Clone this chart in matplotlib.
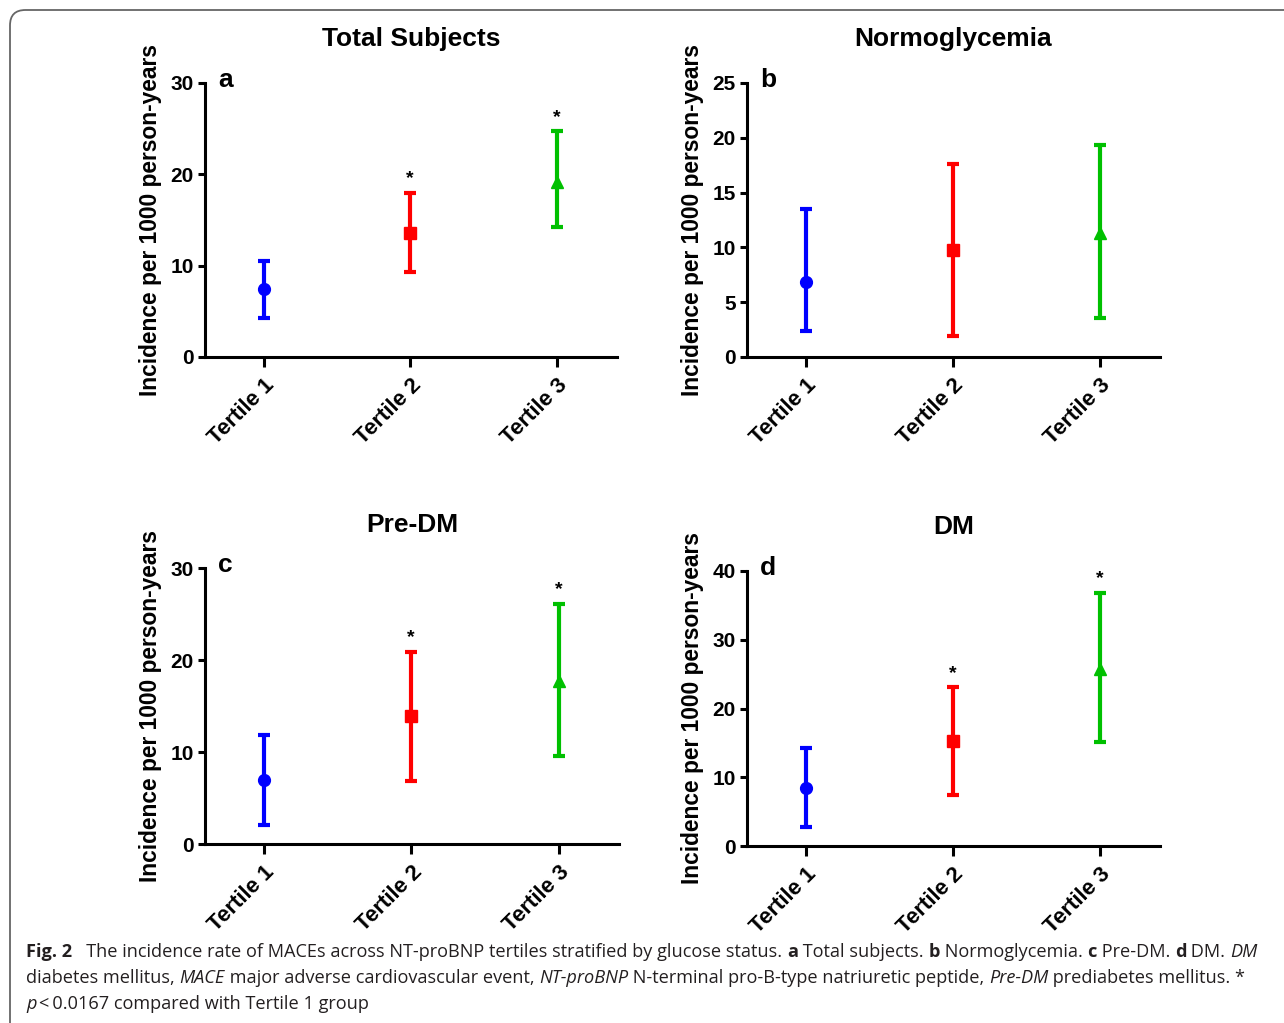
import matplotlib
matplotlib.use("Agg")
import matplotlib.pyplot as plt
from matplotlib.patches import FancyBboxPatch

# 数据
tertiles = ["Tertile 1", "Tertile 2", "Tertile 3"]
panel_titles = ["Total Subjects", "Normoglycemia", "Pre-DM", "DM"]
panel_letters = ["a", "b", "c", "d"]

total_mean = [7.5, 13.6, 19.2]
total_low = [4.3, 9.3, 14.2]
total_high = [10.5, 18.0, 24.7]

normo_mean = [6.8, 9.8, 11.3]
normo_low = [2.4, 1.9, 3.6]
normo_high = [13.5, 17.6, 19.3]

predm_mean = [7.0, 13.9, 17.7]
predm_low = [2.1, 6.8, 9.6]
predm_high = [11.9, 20.9, 26.1]

dm_mean = [8.5, 15.3, 25.8]
dm_low = [2.8, 7.4, 15.2]
dm_high = [14.2, 23.1, 36.8]

# 显著性标记（* 对 Tertile 1）
total_sig = [False, True, True]
normo_sig = [False, False, False]
predm_sig = [False, True, True]
dm_sig = [False, True, True]

y_max = [30, 25, 30, 40]
y_step = [10, 5, 10, 10]

colors = ["#0000FF", "#FF0000", "#00C000"]
markers = ["o", "s", "^"]

plt.rcParams["font.family"] = ["Liberation Sans", "DejaVu Sans"]

W, H = 1284, 1023
fig = plt.figure(figsize=(W / 100, H / 100), dpi=100)


def px_axes(x0, y_top, x1, y_bot):
    return fig.add_axes([x0 / W, 1 - y_bot / H, (x1 - x0) / W, (y_bot - y_top) / H])


# 每个子图的像素位置 (左, 上, 右, 下)
boxes = [(205, 83, 617, 357), (747, 83, 1160, 357),
         (205, 568, 619, 844), (747, 571, 1160, 846)]
title_y = [39, 39, 525, 527]

data = [(total_mean, total_low, total_high, total_sig),
        (normo_mean, normo_low, normo_high, normo_sig),
        (predm_mean, predm_low, predm_high, predm_sig),
        (dm_mean, dm_low, dm_high, dm_sig)]

for k, (mean, low, high, sig) in enumerate(data):
    x0, yt, x1, yb = boxes[k]
    ax = px_axes(x0, yt, x1, yb)
    xs = [1, 2, 3]
    for i in range(3):
        ax.errorbar(xs[i], mean[i],
                    yerr=[[mean[i] - low[i]], [high[i] - mean[i]]],
                    fmt=markers[i], color=colors[i], ecolor=colors[i],
                    elinewidth=3, capsize=4.5, capthick=3, markersize=8.5,
                    clip_on=False)
        if sig[i]:
            ax.annotate("*", (xs[i], high[i]), xytext=(0, 4),
                        textcoords="offset points", ha="center", va="bottom",
                        fontsize=14, fontweight="bold")
    ax.set_xlim(0.6, 3.41)
    ax.set_ylim(0, y_max[k])
    ax.set_yticks(range(0, y_max[k] + 1, y_step[k]))
    ax.set_xticks(xs)
    ax.set_xticklabels(tertiles, rotation=45, ha="right", rotation_mode="anchor",
                       fontsize=16, fontweight="bold")
    for lab in ax.get_yticklabels():
        lab.set_fontsize(15)
        lab.set_fontweight("bold")
    ax.spines["top"].set_visible(False)
    ax.spines["right"].set_visible(False)
    for s in ["left", "bottom"]:
        ax.spines[s].set_linewidth(2.2)
    ax.tick_params(axis="x", length=7, width=2.2, pad=6)
    ax.tick_params(axis="y", length=5, width=2.2, pad=3)
    ax.set_ylabel("Incidence per 1000 person-years", fontsize=16.4,
                  fontweight="bold")
    ax.yaxis.set_label_coords(-0.104, 0.5)
    ax.text(0.032, 1.01, panel_letters[k], transform=ax.transAxes,
            fontsize=19, fontweight="bold", va="center", ha="left")
    fig.text((x0 + x1) / 2 / W, 1 - title_y[k] / H, panel_titles[k],
             fontsize=19, fontweight="bold", ha="center", va="center")

# 外框
frame = FancyBboxPatch((10 / W, -20 / H), 1400 / W, (H - 10 + 20) / H,
                       boxstyle="round,pad=0,rounding_size=0.012",
                       transform=fig.transFigure, fill=False,
                       edgecolor="#666666", linewidth=1.3,
                       mutation_aspect=W / H)
fig.patches.append(frame)

# 图注（分段排版）
cap_font = ["Open Sans", "DejaVu Sans"]
cap_size = 13.1
cap_color = "#231f20"
lines = [
    [("Fig. 2", "bold"), ("   The incidence rate of MACEs across NT-proBNP tertiles stratified by glucose status. ", "normal"),
     ("a", "bold"), (" Total subjects. ", "normal"), ("b", "bold"), (" Normoglycemia. ", "normal"),
     ("c", "bold"), (" Pre-DM. ", "normal"), ("d", "bold"), (" DM. ", "normal"), ("DM", "italic")],
    [("diabetes mellitus, ", "normal"), ("MACE", "italic"), (" major adverse cardiovascular event, ", "normal"),
     ("NT-proBNP", "italic"), (" N-terminal pro-B-type natriuretic peptide, ", "normal"),
     ("Pre-DM", "italic"), (" prediabetes mellitus. *", "normal")],
    [("p", "italic"), ("\u2009<\u20090.0167 compared with Tertile 1 group", "normal")],
]
line_y = [952, 978, 1004]

renderer = fig.canvas.get_renderer()


def seg_width(s, style):
    kw = dict(fontsize=cap_size, family=cap_font)
    if style == "bold":
        kw["fontweight"] = "bold"
    if style == "italic":
        kw["fontstyle"] = "italic"
    t1 = fig.text(0, 0, s + "|", **kw)
    t2 = fig.text(0, 0, "|", **kw)
    w = t1.get_window_extent(renderer).width - t2.get_window_extent(renderer).width
    t1.remove()
    t2.remove()
    return w, kw


for segs, yy in zip(lines, line_y):
    x = 26.0
    for s, style in segs:
        w, kw = seg_width(s, style)
        fig.text(x / W, 1 - yy / H, s, va="center", ha="left", color=cap_color, **kw)
        x += w

fig.savefig("out.png", dpi=100)
